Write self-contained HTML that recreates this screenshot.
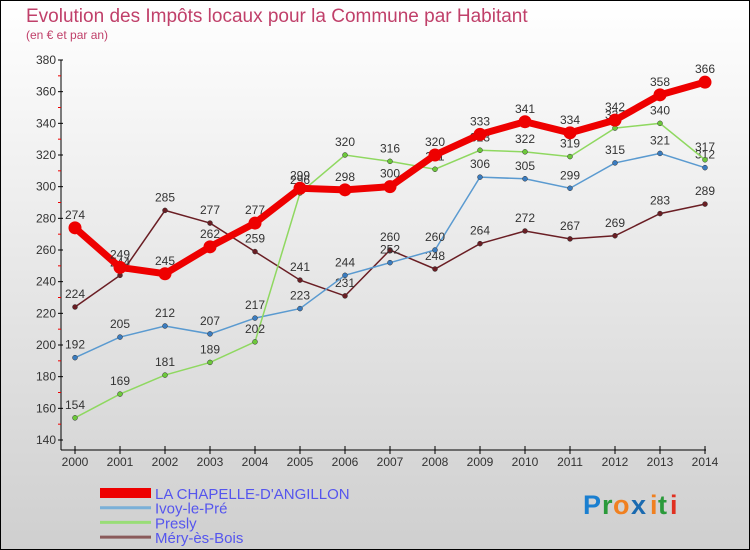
<!DOCTYPE html>
<html><head><meta charset="utf-8"><style>
body{margin:0}
#c{width:750px;height:550px;position:relative;overflow:hidden;box-sizing:border-box;border:1px solid #000;background:linear-gradient(#ffffff,#cfcfcf);font-family:"Liberation Sans",sans-serif}
</style></head><body>
<div id="c">
<svg id="s" width="750" height="550" style="position:absolute;left:-1px;top:-1px">
<text x="26" y="22" font-size="19" fill="#c0406a">Evolution des Impôts locaux pour la Commune par Habitant</text>
<text x="26" y="39" font-size="12" fill="#c0406a">(en € et par an)</text>
<g id="axes"></g><g id="series"></g><g id="legend"></g>
<g font-size="27" font-weight="bold">
<text x="583" y="514" fill="#1a7fd0">P</text><text x="602" y="514" fill="#2a9a3a">r</text><text x="613" y="514" fill="#f08020">o</text><text x="631" y="514" fill="#1a6ab0">x</text><text x="650" y="514" fill="#f08020">i</text><text x="658" y="514" fill="#2a9a3a">t</text><text x="670" y="514" fill="#e03020">i</text>
</g>
</svg>
</div>
<script>
const years=[2000,2001,2002,2003,2004,2005,2006,2007,2008,2009,2010,2011,2012,2013,2014];
const chapelle=[274,249,245,262,277,299,298,300,320,333,341,334,342,358,366];
const ivoy=[192,205,212,207,217,223,244,252,260,306,305,299,315,321,312];
const presly=[154,169,181,189,202,296,320,316,311,323,322,319,337,340,317];
const mery=[224,244,285,277,259,241,231,260,248,264,272,267,269,283,289];
const yTicks=[140,160,180,200,220,240,260,280,300,320,340,360,380];
const names=["LA CHAPELLE-D'ANGILLON","Ivoy-le-Pré","Presly","Méry-ès-Bois"];
const NS="http://www.w3.org/2000/svg";
const X=i=>75+i*(705-75)/(years.length-1);
const Y=v=>440-(v-140)*(380/240);
function mk(t,a,p){const e=document.createElementNS(NS,t);for(const k in a)e.setAttribute(k,a[k]);p.appendChild(e);return e;}
const ax=document.getElementById('axes');
let l=mk('line',{x1:61,y1:60,x2:61,y2:450,stroke:'#000'},ax);


l=mk('line',{x1:61,y1:450,x2:706,y2:450,stroke:'#000'},ax);


yTicks.forEach((v,i)=>{
 mk('line',{x1:58,y1:Y(v),x2:63,y2:Y(v),stroke:'#000'},ax);
 if(i<yTicks.length-1)mk('line',{x1:58,y1:Y(v+10),x2:61,y2:Y(v+10),stroke:'#e00'},ax);
 const t=mk('text',{x:56,y:Y(v)+4,'font-size':12,fill:'#333','text-anchor':'end'},ax);t.textContent=v;
 
 
});
years.forEach((y,i)=>{
 mk('line',{x1:X(i),y1:446,x2:X(i),y2:454,stroke:'#000'},ax);
 const t=mk('text',{x:X(i),y:466,'font-size':12,fill:'#333','text-anchor':'middle'},ax);t.textContent=y;
 
 
});
const sg=document.getElementById('series');
const defs=[[mery,'#6a1e24','#6a1e24',1.5,5],[ivoy,'#5a9ad0','#3a7cc0',1.5,5],[presly,'#8fd860','#6cc83a',1.5,5],[chapelle,'#ee0000','#ee0000',7,13]];
const keys=['mery','ivoy','presly','chapelle'];
defs.forEach((d,k)=>{
 const [vals,col,pc,w,r]=d;
 const p=mk('polyline',{points:vals.map((v,i)=>X(i)+','+Y(v)).join(' '),fill:'none',stroke:col,'stroke-width':w},sg);
 
 
 vals.forEach((v,i)=>{
  const c=mk('circle',{cx:X(i),cy:Y(v),r:r/2,fill:pc,stroke:w>2?'none':'#333','stroke-width':0.5},sg);
  
  
  const t=mk('text',{x:X(i),y:Y(v)-9,'font-size':12,fill:'#333','text-anchor':'middle'},sg);t.textContent=v;
  
  
 });
});
const lg=document.getElementById('legend');
const lc=['#ee0000','#7ab0d8','#99dd77','#8a5a5a'],lw=[10,3,3,3];
names.forEach((n,i)=>{
 const y=493+i*14.7;
 const s=mk('line',{x1:100,y1:y,x2:151,y2:y,stroke:lc[i],'stroke-width':lw[i]},lg);
 
 
 const t=mk('text',{x:155,y:y+6,'font-size':15,fill:'#5555ee'},lg);t.textContent=n;
 
 
});
</script>
</body></html>
